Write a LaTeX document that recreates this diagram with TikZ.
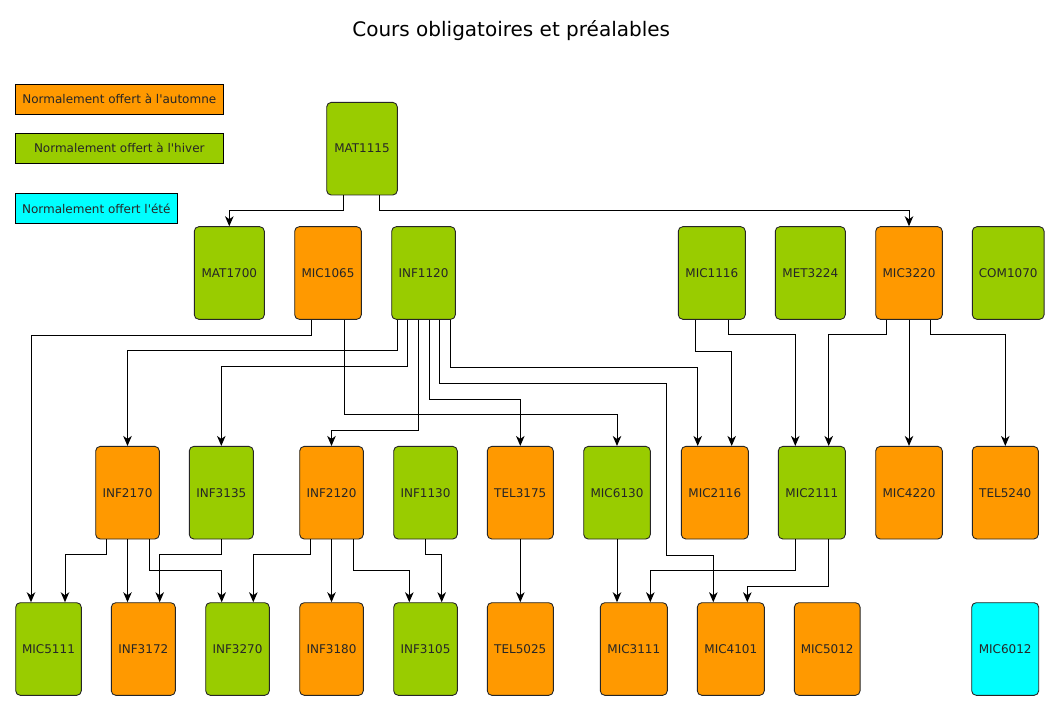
\documentclass[tikz,border=0pt]{standalone}
\usepackage{fontspec}
\setmainfont{DejaVu Sans}[Ligatures=TeXOff]
\usetikzlibrary{arrows.meta}
\definecolor{autumn}{HTML}{FF9900}
\definecolor{winter}{HTML}{99CC00}
\definecolor{summer}{HTML}{00FFFF}
\tikzset{
  course/.style={draw=black!85, line width=0.9pt, rounded corners=4.5pt, minimum height=92.6pt, inner sep=0pt, font=\fontsize{12}{14}\selectfont, text=black!85},
  fa/.style={course, fill=autumn},
  hi/.style={course, fill=winter},
  ete/.style={course, fill=summer},
  legendbox/.style={draw=black, line width=0.9pt, minimum height=29.7pt, inner sep=0pt, font=\fontsize{12}{14}\selectfont, text=black!85},
  edge/.style={draw=black, line width=1pt, -{Stealth[length=10pt, width=8.5pt, inset=3pt]}},
}
\begin{document}
\begin{tikzpicture}[x=1pt, y=-1pt]
\useasboundingbox (0,0) rectangle (1060,711);
\fill[white] (0,0) rectangle (1060,711);
% title
\node[anchor=base, font=\fontsize{20}{24}\selectfont, inner sep=0pt] (title) at (511.2,37) {Cours obligatoires et préalables};
% legend
\node[legendbox, fill=autumn, minimum width=208pt] (legA) at (119.3,99.2) {Normalement offert à l'automne};
\node[legendbox, fill=winter, minimum width=208pt] (legH) at (119.3,148.2) {Normalement offert à l'hiver};
\node[legendbox, fill=summer, minimum width=162pt] (legE) at (96.3,208.3) {Normalement offert l'été};
% row 1
\node[hi, minimum width=70.6pt] (MAT1115) at (362,148.7) {MAT1115};
% row 2
\node[hi, minimum width=70pt] (MAT1700) at (229.3,273) {MAT1700};
\node[fa, minimum width=66.6pt] (MIC1065) at (328,273) {MIC1065};
\node[hi, minimum width=63.6pt] (INF1120) at (423.5,273) {INF1120};
\node[hi, minimum width=67pt] (MIC1116) at (711.8,273) {MIC1116};
\node[hi, minimum width=70pt] (MET3224) at (810.3,273) {MET3224};
\node[fa, minimum width=66.6pt] (MIC3220) at (909,273) {MIC3220};
\node[hi, minimum width=71.7pt] (COM1070) at (1008.2,273) {COM1070};
% row 3
\node[fa, minimum width=63.6pt] (INF2170) at (127.5,492.7) {INF2170};
\node[hi, minimum width=64pt] (INF3135) at (221.3,492.7) {INF3135};
\node[fa, minimum width=63.6pt] (INF2120) at (331.5,492.7) {INF2120};
\node[hi, minimum width=63.6pt] (INF1130) at (425.5,492.7) {INF1130};
\node[fa, minimum width=66pt] (TEL3175) at (520.3,492.7) {TEL3175};
\node[hi, minimum width=66.6pt] (MIC6130) at (617,492.7) {MIC6130};
\node[fa, minimum width=67pt] (MIC2116) at (714.8,492.7) {MIC2116};
\node[hi, minimum width=67pt] (MIC2111) at (811.8,492.7) {MIC2111};
\node[fa, minimum width=66.6pt] (MIC4220) at (909,492.7) {MIC4220};
\node[fa, minimum width=66pt] (TEL5240) at (1005.3,492.7) {TEL5240};
% row 4
\node[hi, minimum width=65.6pt] (MIC5111) at (48.5,649) {MIC5111};
\node[fa, minimum width=64pt] (INF3172) at (143.3,649) {INF3172};
\node[hi, minimum width=63.6pt] (INF3270) at (237.5,649) {INF3270};
\node[fa, minimum width=63.6pt] (INF3180) at (331.5,649) {INF3180};
\node[hi, minimum width=63.6pt] (INF3105) at (425.5,649) {INF3105};
\node[fa, minimum width=66pt] (TEL5025) at (520.3,649) {TEL5025};
\node[fa, minimum width=67pt] (MIC3111) at (633.8,649) {MIC3111};
\node[fa, minimum width=67pt] (MIC4101) at (730.8,649) {MIC4101};
\node[fa, minimum width=65.7pt] (MIC5012) at (827.2,649) {MIC5012};
\node[ete, minimum width=67pt] (MIC6012) at (1005.2,649) {MIC6012};
% edges from MAT1115
\draw[edge] ([xshift=-18.7pt]MAT1115.south) -- ++(0,15) -| (MAT1700.north);
\draw[edge] ([xshift=17.3pt]MAT1115.south) -- ++(0,15) -| (MIC3220.north);
% edges from MIC1065
\draw[edge] ([xshift=-16.3pt]MIC1065.south) -- ++(0,15.3) -| ([xshift=-17.5pt]MIC5111.north);
\draw[edge] ([xshift=16.3pt]MIC1065.south) -- ++(0,95) -| (MIC6130.north);
% edges from INF1120
\draw[edge] ([xshift=-26.2pt]INF1120.south) -- ++(0,31) -| (INF2170.north);
\draw[edge] ([xshift=-15.8pt]INF1120.south) -- ++(0,47) -| (INF3135.north);
\draw[edge] ([xshift=-5.2pt]INF1120.south) -- ++(0,111) -| (INF2120.north);
\draw[edge] ([xshift=5.8pt]INF1120.south) -- ++(0,79.3) -| (TEL3175.north);
\draw[edge] ([xshift=16pt]INF1120.south) -- ++(0,63.3) -- ++(227.2,0) -- ++(0,172) -| ([xshift=-17.5pt]MIC4101.north);
\draw[edge] ([xshift=26.8pt]INF1120.south) -- ++(0,47.3) -| ([xshift=-17.1pt]MIC2116.north);
% edges from MIC1116
\draw[edge] ([xshift=-16.5pt]MIC1116.south) -- ++(0,31.3) -| ([xshift=16.9pt]MIC2116.north);
\draw[edge] ([xshift=16.5pt]MIC1116.south) -- ++(0,15) -| ([xshift=-16.5pt]MIC2111.north);
% edges from MIC3220
\draw[edge] ([xshift=-22.7pt]MIC3220.south) -- ++(0,15) -| ([xshift=16.9pt]MIC2111.north);
\draw[edge] (MIC3220.south) -- (MIC4220.north);
\draw[edge] ([xshift=21.3pt]MIC3220.south) -- ++(0,15) -| (TEL5240.north);
% row 3 to row 4
\draw[edge] ([xshift=-21.2pt]INF2170.south) -- ++(0,15) -| ([xshift=16.5pt]MIC5111.north);
\draw[edge] (INF2170.south) -- (INF2170.south |- INF3172.north);
\draw[edge] ([xshift=21.8pt]INF2170.south) -- ++(0,31) -| ([xshift=-15.8pt]INF3270.north);
\draw[edge] (INF3135.south) -- ++(0,15) -| ([xshift=16.4pt]INF3172.north);
\draw[edge] ([xshift=-21.2pt]INF2120.south) -- ++(0,15) -| ([xshift=15.8pt]INF3270.north);
\draw[edge] (INF2120.south) -- (INF3180.north);
\draw[edge] ([xshift=21.8pt]INF2120.south) -- ++(0,31) -| ([xshift=-16.2pt]INF3105.north);
\draw[edge] (INF1130.south) -- ++(0,15) -| ([xshift=16.2pt]INF3105.north);
\draw[edge] (TEL3175.south) -- (TEL5025.north);
\draw[edge] (MIC6130.south) -- (MIC6130.south |- MIC3111.north);
\draw[edge] ([xshift=-16.5pt]MIC2111.south) -- ++(0,31) -| ([xshift=16.5pt]MIC3111.north);
\draw[edge] ([xshift=16.5pt]MIC2111.south) -- ++(0,46.7) -| ([xshift=16.5pt]MIC4101.north);
\end{tikzpicture}
\end{document}
